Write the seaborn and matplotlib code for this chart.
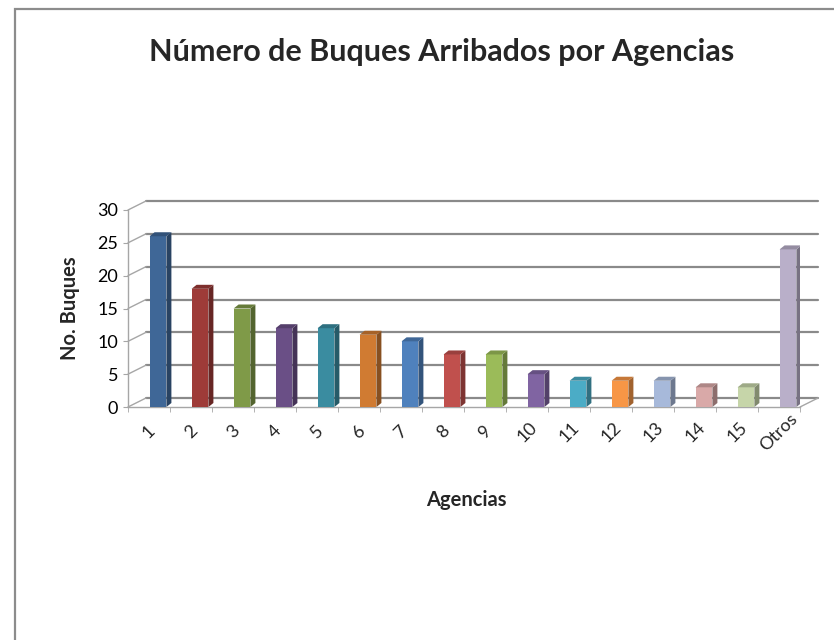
import numpy as np
import pandas as pd
import matplotlib.pyplot as plt
from matplotlib.patches import Polygon, Rectangle
import seaborn as sns

# datos
agencias = ['1', '2', '3', '4', '5', '6', '7', '8', '9', '10',
            '11', '12', '13', '14', '15', 'Otros']
buques = [26, 18, 15, 12, 12, 11, 10, 8, 8, 5, 4, 4, 4, 3, 3, 24]
colores = ['#3F6797', '#9E3B38', '#7F9A48', '#6A4F86', '#3A8CA0', '#D07B32',
           '#4F81BD', '#C0504D', '#9BBB59', '#8064A2', '#4BACC6', '#F79646',
           '#A7B9DA', '#D9A9A8', '#C6D5A9', '#B9AFC9']
yticks = [0, 5, 10, 15, 20, 25, 30]

sns.set_style('white')
plt.rcParams['font.family'] = ['Lato', 'DejaVu Sans']

W, H = 834, 640
fig = plt.figure(figsize=(W / 100, H / 100), dpi=100)
ax_w, ax_h = 672, 197
ax = fig.add_axes([128 / W, (H - 407) / H, ax_w / W, ax_h / H])

df = pd.DataFrame({'Agencias': agencias, 'Buques': buques})
sns.barplot(data=df, x='Agencias', y='Buques', hue='Agencias', palette=colores,
            legend=False, width=0.4, saturation=1, linewidth=0, ax=ax, zorder=3)

n = len(agencias)
ax.set_xlim(-0.5, n - 0.5)
ax.set_ylim(0, 30)

# pixel -> unidades de datos
ux = n / ax_w
uy = 30 / ax_h

# pared del fondo (efecto 3D)
wx, wy = 18 * ux, 9 * uy
for v in yticks:
    ax.plot([-0.5 + wx, n - 0.5 + wx], [v + wy, v + wy], color='#8a8a8a',
            lw=1.6, clip_on=False, zorder=1)
    ax.plot([-0.5, -0.5 + wx], [v, v + wy], color='#a6a6a6', lw=1,
            clip_on=False, zorder=1)
ax.plot([n - 0.5, n - 0.5 + wx], [0, wy], color='#a6a6a6', lw=1,
        clip_on=False, zorder=1)

# barras con caras laterales y superiores
dx, dy = 5 * ux, 4 * uy
shift = 9 * ux
for p in ax.patches:
    p.set_x(p.get_x() + shift)
    x0, w, h = p.get_x(), p.get_width(), p.get_height()
    c = np.array(p.get_facecolor()[:3])
    side = Polygon([(x0 + w, 0), (x0 + w + dx, dy), (x0 + w + dx, h + dy), (x0 + w, h)],
                   closed=True, fc=c * 0.65, ec='none', zorder=3)
    top = Polygon([(x0, h), (x0 + dx, h + dy), (x0 + w + dx, h + dy), (x0 + w, h)],
                  closed=True, fc=c * 0.8, ec='none', zorder=3)
    ax.add_patch(side)
    ax.add_patch(top)

# ejes
for s in ['top', 'right']:
    ax.spines[s].set_visible(False)
for s in ['left', 'bottom']:
    ax.spines[s].set_color('#a6a6a6')
    ax.spines[s].set_linewidth(1)

ax.set_yticks(yticks)
ax.tick_params(axis='y', length=3.6, color='#a6a6a6', pad=3.6, labelsize=13,
               labelcolor='black', left=True)
ax.set_xticks(range(n), agencias)
ax.set_xticks(np.arange(-0.5, n, 1), minor=True)
ax.tick_params(axis='x', which='major', length=0, pad=18, labelsize=13)
ax.tick_params(axis='x', which='minor', length=3.6, color='#a6a6a6', bottom=True)
plt.setp(ax.get_xticklabels(), rotation=45, ha='center', va='center')

ax.set_xlabel('Agencias', fontsize=14.5, fontweight='bold', va='center')
ax.set_ylabel('No. Buques', fontsize=14.5, fontweight='bold', va='center')
ax.xaxis.set_label_coords((466 - 128) / ax_w, -(500 - 407) / ax_h)
ax.yaxis.set_label_coords((70 - 128) / ax_w, (407 - 308) / ax_h)

fig.text(442 / W, 1 - 52 / H, 'Número de Buques Arribados por Agencias',
         ha='center', va='center', fontsize=22, fontweight='bold')

fig.patches.append(Rectangle((15 / W, -0.1), 1.0, 1 - 9 / H + 0.1,
                             transform=fig.transFigure, fill=False,
                             ec='#8c8c8c', lw=1.6))

fig.savefig('out.png', dpi=100)
